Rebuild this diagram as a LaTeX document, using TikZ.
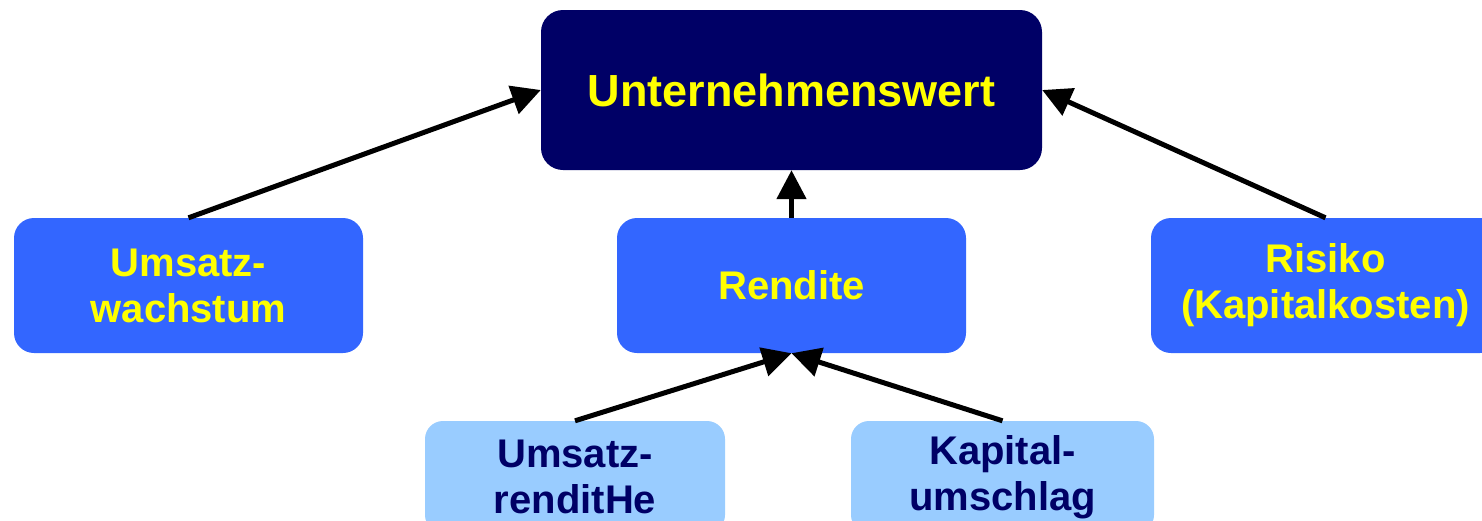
\documentclass[tikz,border=0pt]{standalone}
\usepackage{fontspec}
\setmainfont{Liberation Sans}
\usetikzlibrary{arrows.meta}
\definecolor{navy}{HTML}{000066}
\definecolor{midblue}{HTML}{3366FF}
\definecolor{lightblue}{HTML}{99CCFF}
\definecolor{txtyellow}{HTML}{FFFF00}
\tikzset{
  box/.style={rounded corners=20pt, inner sep=0pt, align=center,
    font=\bfseries\fontsize{40pt}{46pt}\selectfont},
  topbox/.style={box, fill=navy, text=txtyellow,
    minimum width=501pt, minimum height=160pt, rounded corners=22pt,
    font=\bfseries\fontsize{45pt}{50pt}\selectfont},
  midbox/.style={box, fill=midblue, text=txtyellow, minimum height=135pt},
  lowbox/.style={box, fill=lightblue, text=navy, rounded corners=18pt,
    minimum height=112pt},
  link/.style={line width=5pt, -{Triangle[length=29pt,width=29pt]}}
}
\begin{document}
\begin{tikzpicture}[x=1pt, y=-1pt]
  \useasboundingbox (0,0) rectangle (1482,520);
  \clip (0,0) rectangle (1482,520);

  % target value
  \node[topbox] (wert) at (791.5,90) {Unternehmenswert};

  % value drivers
  \node[midbox, minimum width=349pt] (wachs) at (188.5,285.5) {Umsatz-\\wachstum};
  \node[midbox, minimum width=349pt] (rend) at (791.5,285.5) {Rendite};
  \node[midbox, minimum width=349pt] (risk) at (1325.5,285.5) {Risiko\\(Kapitalkosten)};

  % components of the return
  \node[lowbox, minimum width=300pt] (umr) at (575,477) {Umsatz-\\renditHe};
  \node[lowbox, minimum width=303pt] (kap) at (1002.5,477) {Kapital-\\umschlag};

  % connectors
  \draw[link] (wachs.north) -- (wert.west);
  \draw[link] (rend.north) -- (wert.south);
  \draw[link] (risk.north) -- (wert.east);
  \draw[link] (umr.north) -- (rend.south);
  \draw[link] (kap.north) -- (rend.south);
\end{tikzpicture}
\end{document}
